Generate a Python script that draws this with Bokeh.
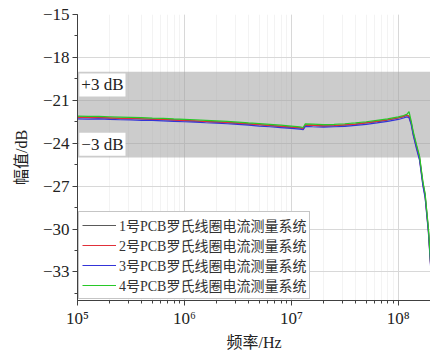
from bokeh.plotting import figure
from bokeh.models import (Legend, LegendItem, BoxAnnotation, Label,
                          SingleIntervalTicker, Range1d)
from bokeh.embed import file_html
from bokeh.resources import INLINE

# ---- data ----
freq = [1.00e5, 1.26e5, 1.58e5, 2.00e5, 2.51e5, 3.16e5, 3.98e5, 5.01e5, 6.31e5, 7.94e5,
        1.00e6, 1.26e6, 1.58e6, 2.00e6, 2.51e6, 3.16e6, 3.98e6, 5.01e6, 6.31e6, 7.94e6,
        1.00e7, 1.20e7, 1.29e7, 1.35e7, 1.58e7, 2.00e7, 2.51e7, 3.16e7, 3.98e7, 5.01e7,
        6.31e7, 7.94e7, 1.00e8,
        1.12e8, 1.20e8, 1.26e8, 1.32e8, 1.38e8, 1.48e8, 1.58e8, 1.70e8, 1.78e8, 1.91e8,
        2.00e8, 2.09e8]

s1 = [-22.18, -22.21, -22.20, -22.24, -22.26, -22.25, -22.30, -22.31, -22.35, -22.37,
      -22.40, -22.45, -22.47, -22.51, -22.56, -22.60, -22.65, -22.71, -22.76, -22.82,
      -22.88, -22.93, -22.97, -22.73, -22.76, -22.79, -22.77, -22.73, -22.67, -22.58,
      -22.49, -22.38, -22.24,
      -22.14, -22.05, -22.10, -22.55, -23.30, -24.20, -25.00, -26.80, -27.60, -30.00,
      -32.30, -34.80]

s2 = [-22.20, -22.19, -22.23, -22.22, -22.27, -22.28, -22.29, -22.33, -22.34, -22.39,
      -22.42, -22.44, -22.49, -22.52, -22.55, -22.62, -22.66, -22.70, -22.78, -22.83,
      -22.90, -22.92, -22.99, -22.75, -22.74, -22.80, -22.78, -22.71, -22.68, -22.57,
      -22.47, -22.36, -22.22,
      -22.12, -22.02, -22.15, -22.62, -23.40, -24.30, -25.10, -26.90, -27.70, -30.10,
      -32.40, -34.90]

s3 = [-22.30, -22.32, -22.30, -22.34, -22.36, -22.37, -22.40, -22.41, -22.44, -22.47,
      -22.50, -22.53, -22.57, -22.60, -22.64, -22.69, -22.74, -22.80, -22.85, -22.91,
      -22.97, -23.02, -23.06, -22.82, -22.85, -22.88, -22.85, -22.82, -22.76, -22.68,
      -22.58, -22.47, -22.34,
      -22.24, -22.16, -22.22, -22.70, -23.45, -24.40, -25.20, -27.00, -27.80, -30.20,
      -32.50, -35.00]

s4 = [-22.10, -22.12, -22.13, -22.15, -22.17, -22.19, -22.21, -22.24, -22.26, -22.30,
      -22.33, -22.36, -22.40, -22.44, -22.48, -22.52, -22.58, -22.63, -22.68, -22.74,
      -22.80, -22.86, -22.90, -22.65, -22.67, -22.70, -22.69, -22.64, -22.58, -22.50,
      -22.40, -22.30, -22.16,
      -22.06, -21.98, -21.80, -22.45, -23.20, -24.10, -24.90, -26.70, -27.50, -29.90,
      -32.20, -34.70]

series_names = ["1号PCB罗氏线圈电流测量系统", "2号PCB罗氏线圈电流测量系统",
                "3号PCB罗氏线圈电流测量系统", "4号PCB罗氏线圈电流测量系统"]
band_low, band_high = -25, -19
band_labels = ["+3 dB", "−3 dB"]
y_ticks = [-15, -18, -21, -24, -27, -30, -33]
y_tick_labels = ["−15", "−18", "−21", "−24", "−27", "−30", "−33"]
x_ticks = [100000, 1000000, 10000000, 100000000]
x_tick_labels = ["10⁵", "10⁶", "10⁷", "10⁸"]
x_title = "频率/Hz"
y_title = "幅值/dB"

# ---- style ----
SERIF = "'Liberation Serif', 'Noto Sans CJK SC'"
colors = ["#5a5a5a", "#e0303a", "#3434d8", "#28c828"]

p = figure(width=430, height=354, x_axis_type="log",
           x_range=Range1d(1e5, 2e8), y_range=Range1d(-35, -15),
           output_backend="svg", toolbar_location=None,
           min_border_left=77, min_border_right=0,
           min_border_top=14, min_border_bottom=54)
p.outline_line_color = None
p.background_fill_color = "white"

p.xgrid.grid_line_color = "#d8d8d8"
p.xgrid.minor_grid_line_color = "#f3f3f3"
p.ygrid.grid_line_color = "#d8d8d8"

band = BoxAnnotation(bottom=band_low, top=band_high, fill_color="#a2a2a2",
                     fill_alpha=0.55, line_color=None, level="underlay")
p.add_layout(band)

renderers = []
for ys, c in zip([s1, s2, s3, s4], colors):
    r = p.line(freq, ys, line_color=c, line_width=1.2)
    renderers.append(r)

p.yaxis.ticker = SingleIntervalTicker(interval=3, num_minor_ticks=2)
p.yaxis.major_label_overrides = {t: l for t, l in zip(y_ticks, y_tick_labels)}
p.xaxis.major_label_overrides = {t: l for t, l in zip(x_ticks, x_tick_labels)}

for ax in (p.xaxis, p.yaxis):
    ax.axis_line_color = "#404040"
    ax.major_tick_line_color = "#404040"
    ax.minor_tick_line_color = "#404040"
    ax.major_tick_out = 5
    ax.major_tick_in = 0
    ax.minor_tick_out = 3
    ax.minor_tick_in = 0
    ax.major_label_text_font = SERIF
    ax.major_label_text_font_size = "17px"
    ax.major_label_text_color = "#222222"
    ax.axis_label_text_font = SERIF
    ax.axis_label_text_font_size = "16px"
    ax.axis_label_text_font_style = "normal"
    ax.axis_label_text_color = "#222222"

p.xaxis.axis_label = x_title
p.yaxis.axis_label = y_title
p.xaxis.major_label_standoff = 3
p.xaxis.axis_label_standoff = 3
p.yaxis.major_label_standoff = 3
p.yaxis.axis_label_standoff = 10

lab1 = Label(x=1.04e5, y=band_high - 0.12, text=band_labels[0], text_baseline="top",
             text_font=SERIF, text_font_size="17px", text_color="#222222",
             background_fill_color="white", background_fill_alpha=1.0, padding=2)
lab2 = Label(x=1.04e5, y=band_low + 0.12, text=band_labels[1], text_baseline="bottom",
             text_font=SERIF, text_font_size="17px", text_color="#222222",
             background_fill_color="white", background_fill_alpha=1.0, padding=2)
p.add_layout(lab1)
p.add_layout(lab2)

legend = Legend(items=[LegendItem(label=n, renderers=[r]) for n, r in zip(series_names, renderers)],
                location="bottom_left")
legend.margin = 1
legend.padding = 3
legend.spacing = 0
legend.glyph_width = 34
legend.glyph_height = 18
legend.label_height = 18
legend.label_standoff = 3
legend.label_text_font = SERIF
legend.label_text_font_size = "14px"
legend.label_text_color = "#333333"
legend.border_line_color = "#8c8c8c"
legend.border_line_width = 1
legend.background_fill_alpha = 1.0
p.add_layout(legend)

open("out.html", "w").write(file_html(p, INLINE))
